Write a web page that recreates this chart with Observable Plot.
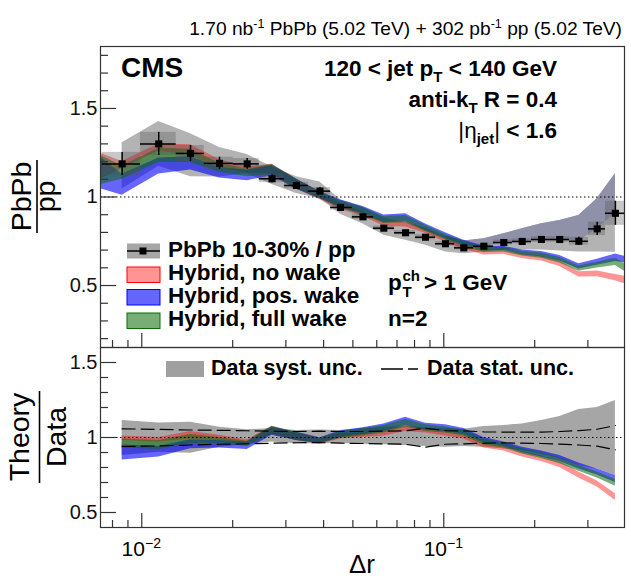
<!DOCTYPE html>
<html><head><meta charset="utf-8">
<script src="https://cdn.jsdelivr.net/npm/d3@7"></script>
<script src="https://cdn.jsdelivr.net/npm/@observablehq/plot@0.6"></script>
<style>
html,body{margin:0;padding:0;background:#fff;overflow:hidden;}
#wrap{position:relative;width:631px;height:579px;font-family:"Liberation Sans",Arial,Helvetica,sans-serif;}
#wrap svg{position:absolute;left:0;}
</style></head><body><div id="wrap"></div>
<script>
// ---------- data ----------
const dataX = [0.00861,0.01138,0.0145,0.01809,0.02234,0.0270,0.0325,0.0389,0.0455,0.0540,0.0633,0.0747,0.0870,0.1013,0.1165,0.1357,0.158,0.1818,0.2106,0.2421,0.28,0.322,0.370];
const binEdges = [0.0074,0.0099,0.0130,0.0161,0.0201,0.0245,0.0297,0.0356,0.0422,0.0498,0.0585,0.0687,0.0806,0.0939,0.1085,0.1254,0.1461,0.1688,0.1951,0.2255,0.2607,0.3013,0.343,0.3966];
const dataY = [1.187,1.30,1.246,1.19,1.187,1.103,1.065,1.033,0.941,0.888,0.824,0.798,0.773,0.736,0.713,0.722,0.743,0.749,0.760,0.760,0.750,0.820,0.908];
const dataStat = [0.065,0.065,0.045,0.035,0.03,0.022,0.018,0.02,0.015,0.015,0.012,0.012,0.014,0.012,0.012,0.012,0.014,0.014,0.016,0.016,0.022,0.038,0.068];
const systTopHi = [1.306,1.427,1.357,1.28,1.24,1.169,1.115,1.085,0.985,0.94,0.881,0.856,0.823,0.779,0.752,0.764,0.792,0.82,0.849,0.867,0.895,0.99,1.131];
const systTopLo = [1.045,1.173,1.115,1.113,1.131,1.07,1.02,0.99,0.903,0.848,0.784,0.756,0.727,0.69,0.68,0.69,0.70,0.70,0.70,0.695,0.69,0.69,0.688];

// ratio panel: data relative uncertainties
const systRelHi = [1.113,1.096,1.102,1.069,1.051,1.06,1.047,1.05,1.047,1.058,1.069,1.073,1.064,1.058,1.055,1.073,1.08,1.09,1.113,1.14,1.187,1.20,1.247];
const systRelLo = [0.88,0.902,0.895,0.935,0.953,0.97,0.958,0.958,0.96,0.955,0.952,0.947,0.94,0.935,0.94,0.935,0.924,0.913,0.89,0.858,0.813,0.79,0.747];
const statRelHi = [1.058,1.054,1.05,1.048,1.045,1.042,1.04,1.042,1.04,1.04,1.042,1.045,1.062,1.046,1.044,1.038,1.036,1.036,1.036,1.04,1.046,1.055,1.08];
const statRelLo = [0.94,0.944,0.95,0.955,0.958,0.962,0.965,0.966,0.962,0.96,0.958,0.955,0.936,0.955,0.958,0.962,0.964,0.962,0.96,0.956,0.95,0.942,0.918];

// theory, main panel (grid includes the frame edges)
const theoryTopX = [0.0073,0.00861,0.01138,0.0145,0.01809,0.02234,0.0270,0.0325,0.0389,0.0455,0.0540,0.0633,0.0747,0.0870,0.1013,0.1165,0.1357,0.158,0.1818,0.2106,0.2421,0.28,0.322,0.370,0.3966];
const noWakeLoTop = [1.10,1.16,1.26,1.235,1.165,1.135,1.13,1.045,0.985,0.93,0.89,0.835,0.83,0.795,0.745,0.705,0.672,0.676,0.652,0.638,0.608,0.548,0.55,0.527,0.51];
const noWakeHiTop = [1.247,1.20,1.30,1.295,1.21,1.17,1.185,1.10,1.025,0.965,0.915,0.862,0.862,0.82,0.766,0.728,0.697,0.698,0.678,0.665,0.638,0.578,0.582,0.563,0.553];
const posWakeLoTop = [1.046,1.01,1.13,1.152,1.107,1.092,1.12,1.044,0.992,0.941,0.906,0.857,0.862,0.812,0.765,0.727,0.697,0.698,0.674,0.661,0.638,0.593,0.615,0.636,0.628];
const posWakeHiTop = [1.225,1.128,1.22,1.227,1.166,1.151,1.18,1.102,1.031,0.983,0.946,0.898,0.906,0.847,0.798,0.756,0.722,0.721,0.70,0.692,0.669,0.623,0.648,0.678,0.665];
const fullWakeLoTop = [1.07,1.10,1.195,1.195,1.14,1.115,1.125,1.045,0.99,0.937,0.897,0.85,0.855,0.805,0.758,0.72,0.686,0.69,0.667,0.654,0.627,0.581,0.599,0.613,0.58];
const fullWakeHiTop = [1.235,1.175,1.275,1.27,1.19,1.157,1.185,1.10,1.028,0.978,0.94,0.89,0.895,0.84,0.788,0.75,0.715,0.714,0.693,0.684,0.658,0.611,0.631,0.654,0.625];

// theory / data, ratio panel
const noWakeLo = [0.98,0.97,0.99,0.98,0.955,1.02,0.98,0.955,0.99,1.0,1.01,1.04,1.03,1.01,0.99,0.93,0.91,0.87,0.84,0.80,0.73,0.67,0.58];
const noWakeHi = [1.01,1.0,1.04,1.015,0.985,1.075,1.03,0.99,1.025,1.03,1.045,1.08,1.06,1.04,1.02,0.965,0.94,0.905,0.875,0.84,0.77,0.71,0.625];
const posWakeLo = [0.85,0.87,0.925,0.93,0.92,1.015,0.98,0.96,1.0,1.02,1.04,1.08,1.05,1.04,1.02,0.965,0.94,0.9,0.87,0.84,0.79,0.75,0.70];
const posWakeHi = [0.95,0.94,0.985,0.98,0.97,1.07,1.035,0.998,1.045,1.065,1.09,1.135,1.095,1.085,1.06,1.0,0.97,0.935,0.91,0.88,0.83,0.79,0.747];
const fullWakeLo = [0.93,0.92,0.96,0.96,0.94,1.02,0.98,0.96,0.995,1.01,1.03,1.07,1.04,1.03,1.01,0.95,0.93,0.89,0.86,0.825,0.775,0.73,0.675];
const fullWakeHi = [0.99,0.98,1.02,1.0,0.975,1.075,1.035,0.995,1.04,1.06,1.08,1.12,1.085,1.07,1.05,0.99,0.96,0.925,0.9,0.865,0.815,0.77,0.72];

// axes
const xDomain = [0.0073, 0.3966];
const yTopDomain = [0.15, 1.85];
const yBotDomain = [0.4, 1.6];
const xMajor = [0.01, 0.1];
const xMinor = [0.008,0.009,0.02,0.03,0.04,0.05,0.06,0.07,0.08,0.09,0.2,0.3];
const xLabelExp = ["\u22122", "\u22121"];
const yMajorTop = [0.5, 1, 1.5];
const yMinorTop = [0.2,0.3,0.4,0.6,0.7,0.8,0.9,1.1,1.2,1.3,1.4,1.6,1.7,1.8];
const yMajorBot = [0.5, 1, 1.5];
const yMinorBot = [0.6,0.7,0.8,0.9,1.1,1.2,1.3,1.4];

// ---------- tables ----------
const topRows = dataX.map((x, i) => ({x, y: dataY[i], stat: dataStat[i], lo: binEdges[i], hi: binEdges[i + 1], sHi: systTopHi[i], sLo: systTopLo[i], idx: i}));
const thTop = theoryTopX.map((x, i) => ({x, rLo: noWakeLoTop[i], rHi: noWakeHiTop[i], bLo: posWakeLoTop[i], bHi: posWakeHiTop[i], gLo: fullWakeLoTop[i], gHi: fullWakeHiTop[i]}));
const botRows = dataX.map((x, i) => ({x, sHi: systRelHi[i], sLo: systRelLo[i], tHi: statRelHi[i], tLo: statRelLo[i],
  rLo: noWakeLo[i], rHi: noWakeHi[i], bLo: posWakeLo[i], bHi: posWakeHi[i], gLo: fullWakeLo[i], gHi: fullWakeHi[i]}));

// ---------- styles ----------
const font = '"Liberation Sans", Arial, Helvetica, sans-serif';
const W = 631, ML = 100, MR = 7, frameW = W - ML - MR;
const topH = 347, topMT = 46, topFrameH = topH - topMT;
const botH = 232, botMB = 52, botFrameH = botH - botMB;
const axisCol = "#333";
const RED = "#ff0000", BLUE = "#0000ff", GREEN = "#0a6a0a";
const aR = 0.42, aB = 0.6, aG = 0.55;

function xTicks(frameH) {
  return [
    Plot.ruleX(xMajor, {x: d => d, insetTop: frameH - 14, stroke: axisCol, strokeWidth: 1.2}),
    Plot.ruleX(xMinor, {x: d => d, insetTop: frameH - 7, stroke: axisCol, strokeWidth: 1.2})
  ];
}
function yTicks(major, minor) {
  return [
    Plot.ruleY(major, {y: d => d, insetRight: frameW - 16, stroke: axisCol, strokeWidth: 1.2}),
    Plot.ruleY(minor, {y: d => d, insetRight: frameW - 8, stroke: axisCol, strokeWidth: 1.2}),
    Plot.text(major, {y: d => d, text: d => String(d), frameAnchor: "left", textAnchor: "end", dx: -3, fontSize: 20, fill: "#111"})
  ];
}
function bands(rows) {
  return [
    Plot.areaY(rows, {x: "x", y1: "rLo", y2: "rHi", fill: RED, fillOpacity: aR}),
    Plot.areaY(rows, {x: "x", y1: "bLo", y2: "bHi", fill: BLUE, fillOpacity: aB}),
    Plot.areaY(rows, {x: "x", y1: "gLo", y2: "gHi", fill: GREEN, fillOpacity: aG})
  ];
}

const topPlot = Plot.plot({
  width: W, height: topH, marginLeft: ML, marginRight: MR, marginTop: topMT, marginBottom: 0,
  style: {fontFamily: font, background: "transparent", overflow: "visible"},
  x: {type: "log", domain: xDomain, axis: null},
  y: {domain: yTopDomain, axis: null},
  marks: [
    Plot.areaY(topRows, {x: "x", y1: "sLo", y2: "sHi", fill: "#b3b3b3"}),
    Plot.areaY(topRows.filter(d => d.idx >= 13), {x: "x", y1: "y", y2: "sHi", fill: "#8e91a7"}),
    ...bands(thTop),
    Plot.ruleY([1], {stroke: "#000", strokeWidth: 1, strokeDasharray: "1.5,2.5"}),
    Plot.rect(topRows, {x1: "lo", x2: "hi", y1: d => d.y - d.stat, y2: d => d.y + d.stat, fill: "#555", fillOpacity: 0.32}),
    Plot.ruleY(topRows, {y: "y", x1: "lo", x2: "hi", stroke: "#000", strokeWidth: 1.5}),
    Plot.ruleX(topRows, {x: "x", y1: d => d.y - d.stat, y2: d => d.y + d.stat, stroke: "#000", strokeWidth: 1.5}),
    Plot.dot(topRows, {x: "x", y: "y", symbol: "square", r: 4, fill: "#000", stroke: "none"}),
    ...xTicks(topFrameH),
    ...yTicks(yMajorTop, yMinorTop),
    Plot.frame({stroke: axisCol, strokeWidth: 1.2})
  ]
});

const botPlot = Plot.plot({
  width: W, height: botH, marginLeft: ML, marginRight: MR, marginTop: 0, marginBottom: botMB,
  style: {fontFamily: font, background: "transparent", overflow: "visible"},
  x: {type: "log", domain: xDomain, axis: null},
  y: {domain: yBotDomain, axis: null},
  marks: [
    Plot.areaY(botRows, {x: "x", y1: "sLo", y2: "sHi", fill: "#a6a6a6"}),
    ...bands(botRows),
    Plot.line(botRows, {x: "x", y: "tHi", stroke: "#000", strokeWidth: 1.2, strokeDasharray: "13,6"}),
    Plot.line(botRows, {x: "x", y: "tLo", stroke: "#000", strokeWidth: 1.2, strokeDasharray: "13,6"}),
    Plot.ruleY([1], {stroke: "#000", strokeWidth: 1, strokeDasharray: "1.5,2.5"}),
    ...xTicks(botFrameH),
    ...yTicks(yMajorBot, yMinorBot),
    Plot.frame({stroke: axisCol, strokeWidth: 1.2})
  ]
});

const wrap = document.getElementById("wrap");
topPlot.style.top = "0px";
botPlot.style.top = topH + "px";
wrap.appendChild(topPlot);
wrap.appendChild(botPlot);

// ---------- overlay text ----------
const xs = botPlot.scale("x");
const xLab = xMajor.map((v, i) =>
  `<text x="${xs.apply(v)}" y="556" text-anchor="middle" font-size="21">10<tspan dy="-8" font-size="14">${xLabelExp[i]}</tspan></text>`).join("");

const B = 'font-weight="bold"';
const markup = `
<text x="622" y="35" text-anchor="end" font-size="19.2">1.70 nb<tspan dy="-7" font-size="12.5">-1</tspan><tspan dy="7"> PbPb (5.02 TeV) + 302 pb</tspan><tspan dy="-7" font-size="12.5">-1</tspan><tspan dy="7"> pp (5.02 TeV)</tspan></text>
<text x="121" y="77" ${B} font-size="28">CMS</text>
<text x="557" y="76" text-anchor="end" ${B} font-size="22.5">120 &lt; jet p<tspan dy="6" font-size="15">T</tspan><tspan dy="-6"> &lt; 140 GeV</tspan></text>
<text x="557" y="107" text-anchor="end" ${B} font-size="22.5">anti-k<tspan dy="6" font-size="15">T</tspan><tspan dy="-6"> R = 0.4</tspan></text>
<text x="557" y="138" text-anchor="end" ${B} font-size="22.5"><tspan font-weight="normal">|\u03b7</tspan><tspan dy="6" font-size="15">jet</tspan><tspan dy="-6" font-weight="normal">|</tspan> &lt; 1.6</text>

<rect x="127" y="243.5" width="33" height="15" fill="#a6a6a6"/>
<line x1="127" x2="160" y1="251" y2="251" stroke="#000" stroke-width="1.5"/>
<rect x="139.5" y="247.5" width="7" height="7" fill="#000"/>
<text x="168" y="256.5" ${B} font-size="22.5">PbPb 10-30% / pp</text>
<rect x="127" y="267" width="33" height="15.5" fill="${RED}" fill-opacity="${aR}" stroke="${RED}" stroke-width="1"/>
<text x="168" y="279.5" ${B} font-size="22.5">Hybrid, no wake</text>
<rect x="127" y="289.5" width="33" height="15.5" fill="${BLUE}" fill-opacity="${aB}" stroke="${BLUE}" stroke-width="1"/>
<text x="168" y="302.5" ${B} font-size="22.5">Hybrid, pos. wake</text>
<rect x="127" y="313" width="33" height="15.5" fill="${GREEN}" fill-opacity="${aG}" stroke="${GREEN}" stroke-width="1"/>
<text x="168" y="325.7" ${B} font-size="22.5">Hybrid, full wake</text>

<text x="388" y="290" ${B} font-size="22.5">p</text>
<text x="402.5" y="281" ${B} font-size="15">ch</text>
<text x="402.5" y="297" ${B} font-size="15">T</text>
<text x="424" y="290" ${B} font-size="22.5">&gt; 1 GeV</text>
<text x="388" y="326" ${B} font-size="22.5">n=2</text>

<rect x="166" y="361" width="38" height="16" fill="#a0a0a0"/>
<text x="211" y="375" ${B} font-size="21.5">Data syst. unc.</text>
<line x1="381" x2="419" y1="369" y2="369" stroke="#000" stroke-width="1.3" stroke-dasharray="22 5 10"/>
<text x="427" y="375" ${B} font-size="21.5">Data stat. unc.</text>

<g transform="translate(0,196.5) rotate(-90)">
  <text x="0" y="31" text-anchor="middle" font-size="28.5">PbPb</text>
  <line x1="-36.5" x2="36.5" y1="37" y2="37" stroke="#000" stroke-width="1.6"/>
  <text x="0" y="55" text-anchor="middle" font-size="28.5">pp</text>
</g>
<g transform="translate(0,437) rotate(-90)">
  <text x="0" y="29" text-anchor="middle" font-size="28.5">Theory</text>
  <line x1="-46" x2="46" y1="39.5" y2="39.5" stroke="#000" stroke-width="1.6"/>
  <text x="0" y="65.5" text-anchor="middle" font-size="28.5">Data</text>
</g>
${xLab}
<text x="362" y="573" text-anchor="middle" font-size="26">\u0394r</text>
`;
const ov = d3.select(wrap).append("svg")
  .attr("width", W).attr("height", 579)
  .style("top", "0px").style("pointer-events", "none")
  .style("font-family", font).attr("fill", "#000");
ov.html(markup);
</script></body></html>
